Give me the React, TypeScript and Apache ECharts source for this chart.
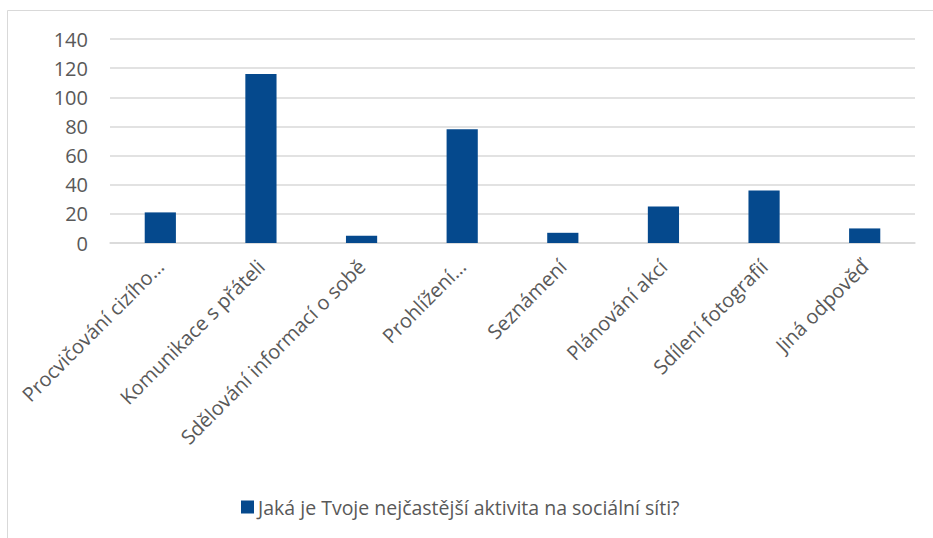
import React, { useEffect, useRef } from "react";
import * as echarts from "echarts";

const categories = [
  "Procvičování cizího…",
  "Komunikace s přáteli",
  "Sdělování informací o sobě",
  "Prohlížení…",
  "Seznámení",
  "Plánování akcí",
  "Sdílení fotografií",
  "Jiná odpověď",
];
const values = [21, 116, 5, 78, 7, 25, 36, 10];
const seriesName = "Jaká je Tvoje nejčastější aktivita na sociální síti?";
const yTicks = { min: 0, max: 140, interval: 20 };

export default function App() {
  const ref = useRef<HTMLDivElement>(null);
  useEffect(() => {
    if (!ref.current) return;
    const chart = echarts.init(ref.current, null, { renderer: "svg" });
    const font = "'Open Sans', 'Noto Sans', sans-serif";
    chart.setOption({
      animation: false,
      textStyle: { fontFamily: font },
      graphic: [
        {
          type: "rect",
          shape: { x: 7.5, y: 10.5, width: 940, height: 540 },
          style: { fill: "none", stroke: "#d9d9d9", lineWidth: 1 },
          silent: true,
        },
      ],
      grid: { left: 110, right: 18, top: 39, bottom: 295, containLabel: false },
      legend: {
        left: 236,
        top: 492,
        itemWidth: 13,
        itemHeight: 13,
        itemGap: 5,
        icon: "rect",
        textStyle: { color: "#595959", fontSize: 19.5, fontFamily: font, padding: [0, 0, 0, -1] },
        data: [seriesName],
      },
      xAxis: {
        type: "category",
        data: categories,
        axisLine: { lineStyle: { color: "#d9d9d9", width: 1.5 } },
        axisTick: { show: false },
        axisLabel: {
          rotate: 45,
          interval: 0,
          margin: 20,
          color: "#595959",
          fontSize: 20,
          fontFamily: font,
        },
      },
      yAxis: {
        type: "value",
        min: yTicks.min,
        max: yTicks.max,
        interval: yTicks.interval,
        axisLine: { show: false },
        axisTick: { show: false },
        splitLine: { lineStyle: { color: "#d9d9d9", width: 1.5 } },
        axisLabel: { color: "#595959", fontSize: 20, margin: 22, fontFamily: font },
      },
      series: [
        {
          name: seriesName,
          type: "bar",
          data: values,
          barWidth: "31%",
          itemStyle: { color: "#05498d" },
        },
      ],
    });
    return () => chart.dispose();
  }, []);
  return (
    <div
      ref={ref}
      style={{ position: "fixed", left: 0, top: 0, width: 933, height: 538, background: "#fff" }}
    />
  );
}
